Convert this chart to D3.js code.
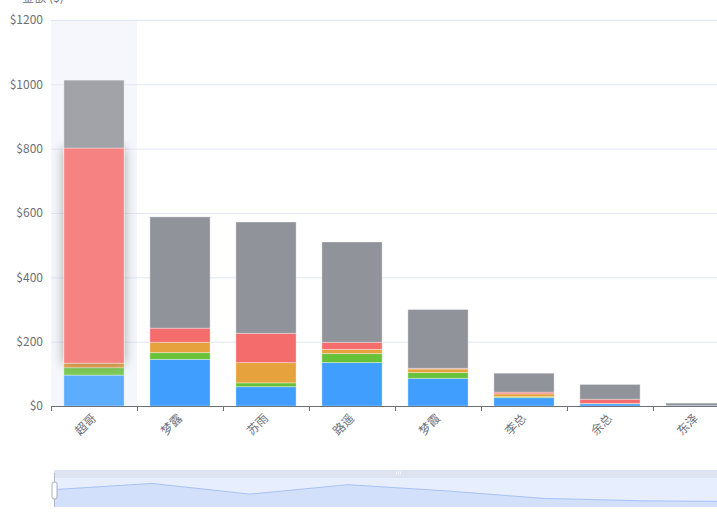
<!DOCTYPE html>
<html lang="zh">
<head>
<meta charset="utf-8">
<title>金额堆叠柱状图</title>
<style>
    body { margin: 0; background: #fff; }
    svg text { font-family: "Noto Sans CJK SC", "Noto Sans", sans-serif; }
</style>
</head>
<body>
<svg id="chart" width="717" height="520"></svg>
<script src="https://cdn.jsdelivr.net/npm/d3@7"></script>
<script>
// 数据
var categories = ['超哥', '梦露', '苏雨', '路遥', '梦霞', '李总', '余总', '东泽'];
var blueVals   = [96, 145, 60, 135, 86, 26, 7, 1];
var greenVals  = [23, 21, 12, 28, 18, 3, 0, 0];
var orangeVals = [14, 32, 63, 13, 11, 9, 1, 0];
var redVals    = [669, 44, 91, 22, 2, 5, 13, 0];
var grayVals   = [211, 346, 346, 312, 183, 59, 46, 8];
var yTicks     = [0, 200, 400, 600, 800, 1000, 1200];

var seriesList = [
    {name: 'a', values: blueVals,   color: '#409EFF'},
    {name: 'b', values: greenVals,  color: '#67C23A'},
    {name: 'c', values: orangeVals, color: '#E6A23C'},
    {name: 'd', values: redVals,    color: '#F56C6C'},
    {name: 'e', values: grayVals,   color: '#909399'}
];

var svg = d3.select('#chart');
var plot = {left: 51, right: 739, top: 20, bottom: 406};

// 阴影
var defs = svg.append('defs');
var f = defs.append('filter').attr('id', 'shadow')
    .attr('x', '-50%').attr('y', '-20%').attr('width', '200%').attr('height', '140%');
f.append('feDropShadow').attr('dx', 0).attr('dy', 0).attr('stdDeviation', 6)
    .attr('flood-color', '#000').attr('flood-opacity', 0.35);

// 比例尺
var x = d3.scaleBand().domain(categories).range([plot.left, plot.right])
    .paddingInner(0.3).paddingOuter(0.15);
var y = d3.scaleLinear().domain([0, 1200]).range([plot.bottom, plot.top]);
var step = x.step();
var bandStart = function(c) { return x(c) - step * 0.15; };

// 悬停背景
svg.append('rect')
    .attr('x', bandStart(categories[0])).attr('y', plot.top)
    .attr('width', step).attr('height', plot.bottom - plot.top)
    .attr('fill', '#f5f7fc');

// 网格线 + y 轴
svg.append('g').selectAll('line').data(yTicks.slice(1)).join('line')
    .attr('x1', plot.left).attr('x2', plot.right)
    .attr('y1', function(d) { return y(d) + 0.5; })
    .attr('y2', function(d) { return y(d) + 0.5; })
    .attr('stroke', '#e0e6f1');

svg.append('g').selectAll('text').data(yTicks).join('text')
    .attr('x', plot.left - 8).attr('y', function(d) { return y(d); })
    .attr('dy', '0.35em').attr('text-anchor', 'end')
    .attr('font-size', 12).attr('fill', '#6e7079')
    .text(function(d) { return '$' + d; });

svg.append('text')
    .attr('x', plot.left - 8).attr('y', 2)
    .attr('text-anchor', 'middle').attr('font-size', 12).attr('fill', '#6e7079')
    .text('金额 ($)');

// 堆叠
var rows = categories.map(function(c, i) {
    var r = {cat: c};
    seriesList.forEach(function(s) { r[s.name] = s.values[i]; });
    return r;
});
var stacked = d3.stack().keys(seriesList.map(function(s) { return s.name; }))(rows);

stacked.forEach(function(layer, li) {
    var base = seriesList[li].color;
    var g = svg.append('g');
    g.selectAll('rect').data(layer).join('rect')
        .attr('x', function(d) { return x(d.data.cat); })
        .attr('width', x.bandwidth())
        .attr('y', function(d) { return y(d[1]); })
        .attr('height', function(d) { return Math.max(0, y(d[0]) - y(d[1])); })
        .attr('fill', function(d) {
            return d.data.cat === categories[0] ? d3.interpolateRgb(base, '#fff')(0.15) : base;
        })
        .attr('stroke', 'rgba(255,255,255,0.35)')
        .attr('stroke-width', 1)
        .attr('filter', function(d) {
            return (li === 3 && d.data.cat === categories[0]) ? 'url(#shadow)' : null;
        });
});

// x 轴
svg.append('line')
    .attr('x1', plot.left).attr('x2', plot.right)
    .attr('y1', plot.bottom + 0.5).attr('y2', plot.bottom + 0.5)
    .attr('stroke', '#6e7079');

svg.append('g').selectAll('line').data(categories).join('line')
    .attr('x1', function(c) { return Math.round(bandStart(c)) + 0.5; })
    .attr('x2', function(c) { return Math.round(bandStart(c)) + 0.5; })
    .attr('y1', plot.bottom).attr('y2', plot.bottom + 5)
    .attr('stroke', '#6e7079');

svg.append('g').selectAll('text').data(categories).join('text')
    .attr('transform', function(c) {
        return 'translate(' + (x(c) + x.bandwidth() / 2) + ',' + (plot.bottom + 10) + ') rotate(-45)';
    })
    .attr('text-anchor', 'end').attr('dy', '0.35em')
    .attr('font-size', 12).attr('fill', '#6e7079')
    .text(function(c) { return c; });

// dataZoom 滑块
var sz = {left: 54, right: 740, top: 470, handleBar: 8, bottom: 507};
var sx = d3.scalePoint().domain(categories).range([sz.left, sz.right]);
var ext = d3.extent(blueVals);
var pad = (ext[1] - ext[0]) * 0.3;
var sy = d3.scaleLinear().domain([ext[0] - pad, ext[1] + pad])
    .range([sz.bottom, sz.top + sz.handleBar]);

svg.append('rect')
    .attr('x', sz.left).attr('y', sz.top)
    .attr('width', sz.right - sz.left).attr('height', sz.handleBar)
    .attr('fill', '#dde3f1');
svg.append('rect')
    .attr('x', sz.left).attr('y', sz.top + sz.handleBar)
    .attr('width', sz.right - sz.left).attr('height', sz.bottom - sz.top - sz.handleBar)
    .attr('fill', '#e7eefd');

var area = d3.area()
    .x(function(d, i) { return sx(categories[i]); })
    .y0(sz.bottom)
    .y1(function(d) { return sy(d); });
var line = d3.line()
    .x(function(d, i) { return sx(categories[i]); })
    .y(function(d) { return sy(d); });

svg.append('path').datum(blueVals).attr('d', area).attr('fill', '#d3e0fc');
svg.append('path').datum(blueVals).attr('d', line)
    .attr('fill', 'none').attr('stroke', '#a9c1f5').attr('stroke-width', 1);

// 移动手柄图标
var mid = 399;
svg.append('rect').attr('x', mid - 3).attr('y', sz.top + 1.5).attr('width', 6).attr('height', 3)
    .attr('fill', '#f4f6fb');
[-2, 0, 2].forEach(function(o) {
    svg.append('line').attr('x1', mid + o + 0.5).attr('x2', mid + o + 0.5)
        .attr('y1', sz.top + 1.5).attr('y2', sz.top + 4.5)
        .attr('stroke', '#c8d0e2').attr('stroke-width', 0.6);
});

// 左手柄
svg.append('line')
    .attr('x1', sz.left + 0.5).attr('x2', sz.left + 0.5)
    .attr('y1', sz.top + 3).attr('y2', sz.bottom)
    .attr('stroke', '#acb8d1');
svg.append('rect')
    .attr('x', sz.left - 2).attr('y', 482).attr('width', 5).attr('height', 17)
    .attr('rx', 2).attr('fill', '#fff').attr('stroke', '#a6aec0');
</script>
</body>
</html>
